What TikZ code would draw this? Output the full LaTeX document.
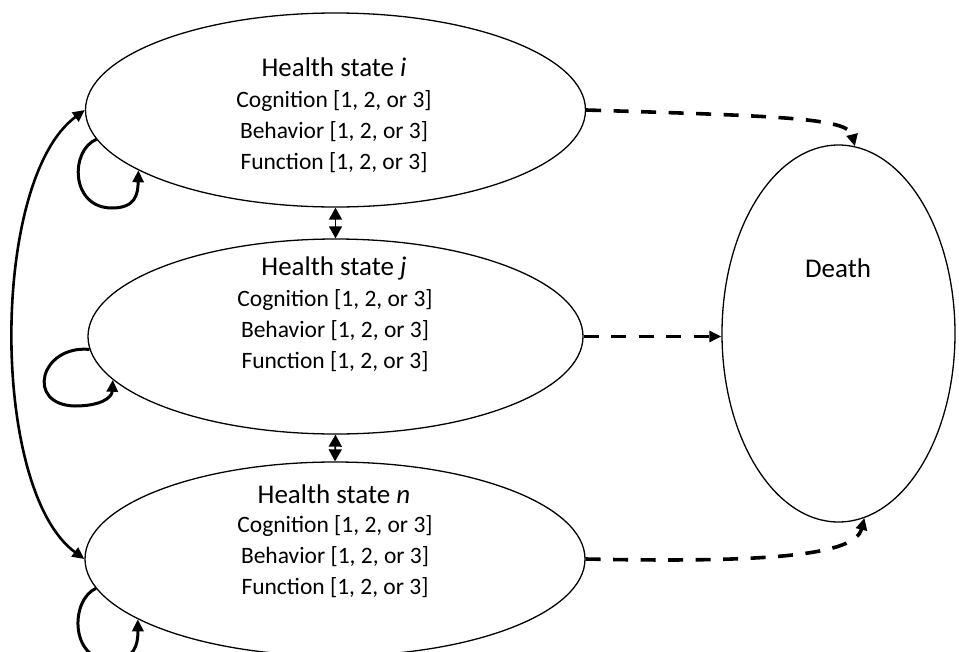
\documentclass[tikz,border=0pt]{standalone}
\usepackage{fontspec}
\setmainfont{Carlito}
\usetikzlibrary{shapes.geometric,arrows.meta}
\tikzset{
  stateell/.style={draw, ellipse, line width=1.3pt, inner sep=0pt},
  titletext/.style={font=\fontsize{27}{30}\selectfont, inner sep=0pt},
  bodytext/.style={font=\fontsize{23.5}{31}\selectfont, align=center, inner sep=0pt},
  loopline/.style={line width=3pt, -{Triangle[length=12pt,width=11pt]}},
  bigcurve/.style={line width=2.6pt, {Triangle[length=12pt,width=11pt]}-{Triangle[length=12pt,width=11pt]}},
  twoway/.style={line width=1.6pt, {Triangle[length=12pt,width=13pt]}-{Triangle[length=12pt,width=13pt]}},
  deathline/.style={line width=3.6pt, dash pattern=on 15pt off 12.5pt, -{Triangle[length=12pt,width=11pt]}}
}
\begin{document}
\begin{tikzpicture}[x=1pt,y=-1pt]
\useasboundingbox (0,0) rectangle (959,651);
% ellipses
\node[stateell, minimum width=500pt, minimum height=194pt] (ei) at (335.5,110) {};
\node[stateell, minimum width=495pt, minimum height=195pt] (ej) at (335.5,336.5) {};
\node[stateell, minimum width=500pt, minimum height=194pt] (en) at (335,559) {};
\node[stateell, minimum width=233pt, minimum height=377pt] (death) at (838.5,333.5) {};
% texts
\node[titletext] (ti) at (334,67) {Health state \textit{i}};
\node[bodytext] (bi) at (334,132) {Cognition [1, 2, or 3]\\Behavior [1, 2, or 3]\\Function [1, 2, or 3]};
\node[titletext] (tj) at (334,268) {Health state \textit{j}};
\node[bodytext] (bj) at (335,331) {Cognition [1, 2, or 3]\\Behavior [1, 2, or 3]\\Function [1, 2, or 3]};
\node[titletext] (tn) at (334,494) {Health state \textit{n}};
\node[bodytext] (bn) at (335,557) {Cognition [1, 2, or 3]\\Behavior [1, 2, or 3]\\Function [1, 2, or 3]};
\node[titletext] (td) at (838,268) {Death};
% two-way arrows
\draw[twoway] (ei.south) -- (ej.north);
\draw[twoway] (ej.south) -- (en.north);
% big left curve
\draw[bigcurve] (ei.west) .. controls (-10,180) and (-10,490) .. (en.west);
% self loops
\draw[loopline] (ei.187) .. controls (70,150) and (70,208) .. (112,208) .. controls (135,208) and (138,195) .. (ei.197);
\draw[loopline] (ej.183) .. controls (40,345) and (25,405) .. (75,406) .. controls (100,406) and (112,398) .. (ej.191);
\draw[loopline] (en.187) .. controls (70,600) and (70,660) .. (110,660) .. controls (135,660) and (138,645) .. (en.197);
% to death
\draw[deathline] (ei.east) .. controls (780,116) and (848,118) .. (death.85);
\draw[deathline] (ej.east) -- (ej.east -| death.west);
\draw[deathline] (en.east) .. controls (770,563) and (855,555) .. (death.-82);
\end{tikzpicture}
\end{document}
